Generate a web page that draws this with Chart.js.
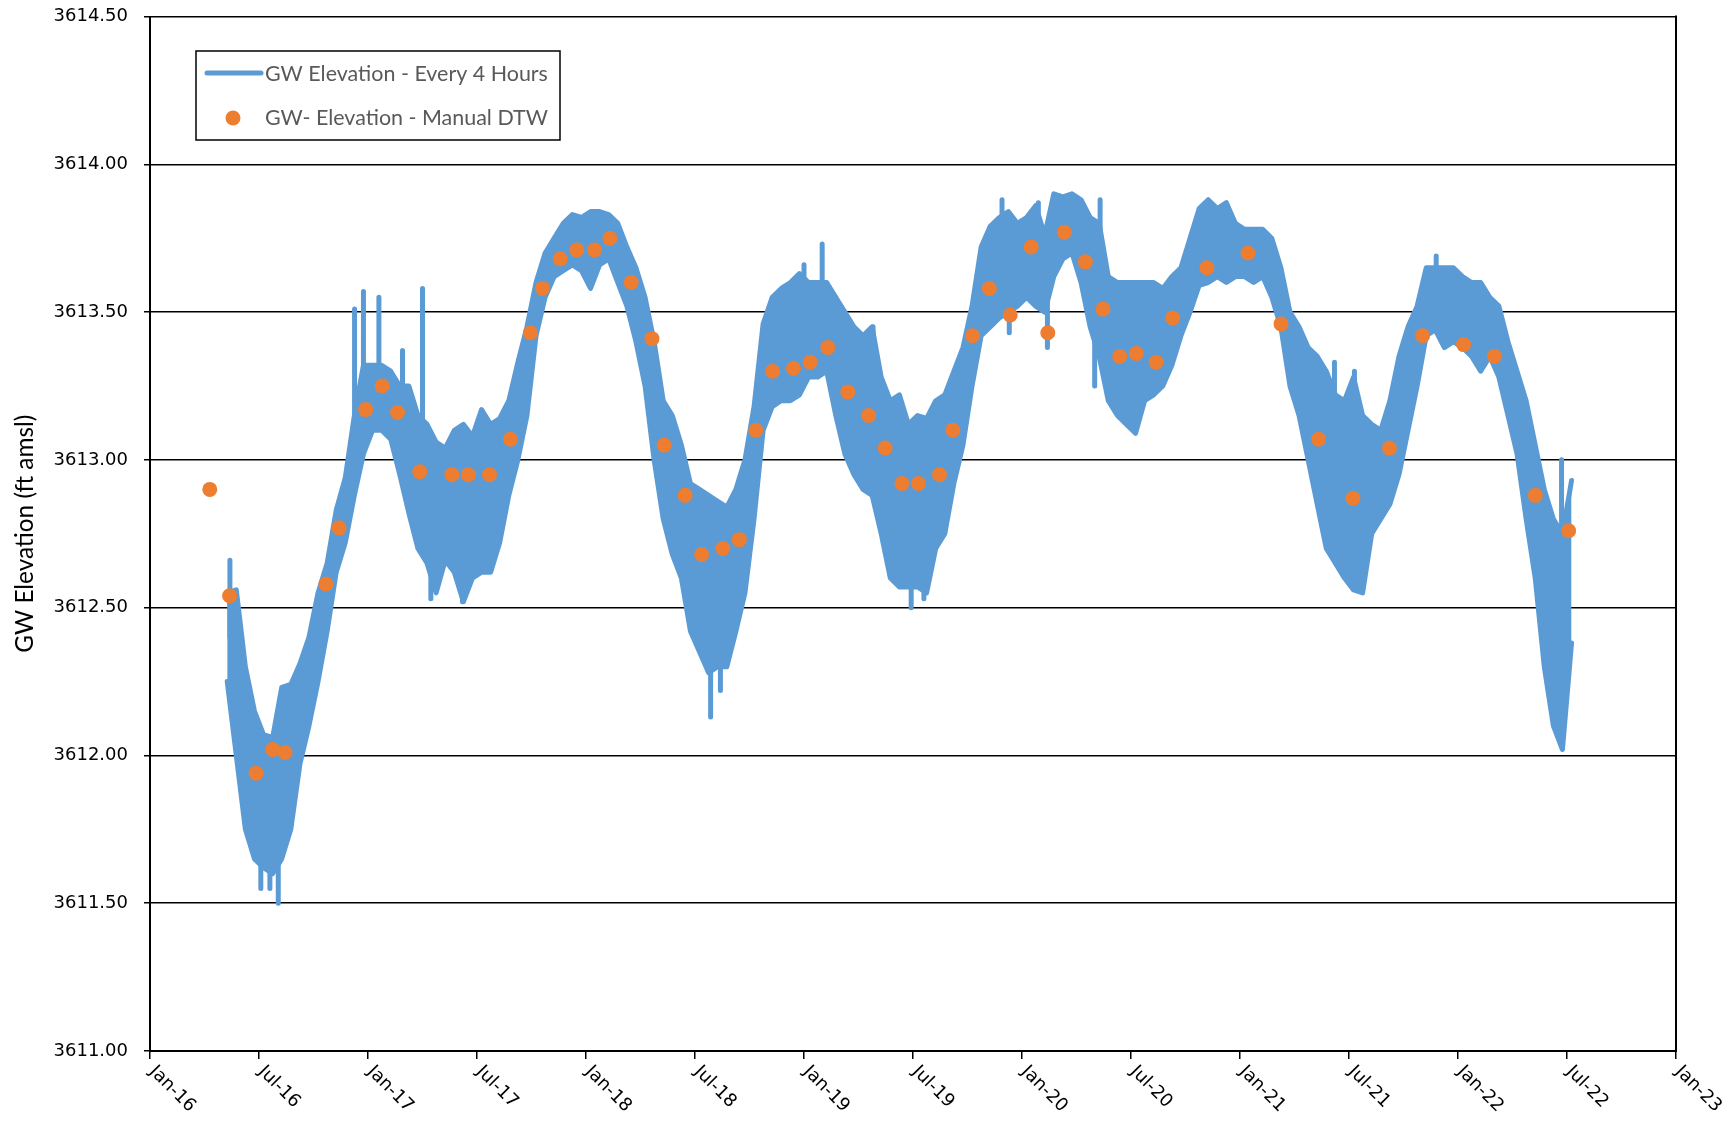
<!DOCTYPE html>
<html>
<head>
<meta charset="utf-8">
<script src="https://cdn.jsdelivr.net/npm/chart.js@4.4.1/dist/chart.umd.min.js"></script>
<style>
  html, body { margin: 0; padding: 0; background: #fff; }
  #wrap { width: 1733px; height: 1130px; }
</style>
</head>
<body>
<div id="wrap"><canvas id="gwChart" width="1733" height="1130"></canvas></div>
<script>
// x values are months since Jan 2016
const xTickLabels = ['Jan-16', 'Jul-16', 'Jan-17', 'Jul-17', 'Jan-18', 'Jul-18', 'Jan-19', 'Jul-19',
    'Jan-20', 'Jul-20', 'Jan-21', 'Jul-21', 'Jan-22', 'Jul-22', 'Jan-23'];

const gwStartMonth = 4.25;
const gwStep = 0.5;
const gwHigh = [
    3612.55, 3612.56, 3612.30, 3612.15, 3612.07, 3612.06, 3612.23, 3612.24, 3612.31, 3612.40,
    3612.55, 3612.65, 3612.83, 3612.94, 3613.15, 3613.32, 3613.32, 3613.32, 3613.30, 3613.25,
    3613.25, 3613.15, 3613.12, 3613.06, 3613.04, 3613.10, 3613.12, 3613.08, 3613.17, 3613.12,
    3613.14, 3613.20, 3613.33, 3613.45, 3613.60, 3613.70, 3613.75, 3613.80, 3613.83, 3613.82,
    3613.84, 3613.84, 3613.83, 3613.80, 3613.72, 3613.65, 3613.55, 3613.40, 3613.20, 3613.15,
    3613.05, 3612.92, 3612.90, 3612.88, 3612.86, 3612.84, 3612.90, 3613.00, 3613.18, 3613.46,
    3613.55, 3613.58, 3613.60, 3613.63, 3613.60, 3613.60, 3613.60, 3613.55, 3613.50, 3613.45,
    3613.42, 3613.45, 3613.28, 3613.20, 3613.22, 3613.12, 3613.15, 3613.14, 3613.20, 3613.22,
    3613.30, 3613.38, 3613.52, 3613.72, 3613.79, 3613.82, 3613.84, 3613.80, 3613.82, 3613.86,
    3613.76, 3613.90, 3613.89, 3613.90, 3613.88, 3613.82, 3613.80, 3613.62, 3613.60, 3613.60,
    3613.60, 3613.60, 3613.60, 3613.58, 3613.62, 3613.65, 3613.75, 3613.85, 3613.88, 3613.85,
    3613.87, 3613.80, 3613.78, 3613.78, 3613.78, 3613.75, 3613.65, 3613.50, 3613.45, 3613.38,
    3613.35, 3613.30, 3613.22, 3613.20, 3613.28, 3613.15, 3613.12, 3613.10, 3613.20, 3613.35,
    3613.45, 3613.52, 3613.65, 3613.65, 3613.65, 3613.65, 3613.62, 3613.60, 3613.60, 3613.55,
    3613.52, 3613.40, 3613.30, 3613.20, 3613.05, 3612.90, 3612.80, 3612.75, 3612.93
];
const gwLow = [
    3612.25, 3612.00, 3611.75, 3611.65, 3611.62, 3611.60, 3611.65, 3611.75, 3611.97, 3612.10,
    3612.25, 3612.42, 3612.62, 3612.72, 3612.88, 3613.02, 3613.10, 3613.10, 3613.07, 3612.95,
    3612.82, 3612.70, 3612.65, 3612.55, 3612.66, 3612.62, 3612.52, 3612.60, 3612.62, 3612.62,
    3612.72, 3612.88, 3613.00, 3613.15, 3613.42, 3613.55, 3613.62, 3613.64, 3613.66, 3613.64,
    3613.58, 3613.66, 3613.68, 3613.60, 3613.52, 3613.40, 3613.25, 3613.00, 3612.80, 3612.68,
    3612.60, 3612.42, 3612.35, 3612.28, 3612.30, 3612.30, 3612.42, 3612.55, 3612.80, 3613.10,
    3613.18, 3613.20, 3613.20, 3613.22, 3613.28, 3613.28, 3613.30, 3613.15, 3613.02, 3612.95,
    3612.90, 3612.88, 3612.75, 3612.60, 3612.57, 3612.57, 3612.57, 3612.55, 3612.70, 3612.75,
    3612.92, 3613.05, 3613.25, 3613.42, 3613.45, 3613.48, 3613.50, 3613.52, 3613.55, 3613.52,
    3613.50, 3613.62, 3613.68, 3613.70, 3613.60, 3613.45, 3613.35, 3613.20, 3613.15, 3613.12,
    3613.09, 3613.20, 3613.22, 3613.25, 3613.32, 3613.42, 3613.50, 3613.59, 3613.60, 3613.62,
    3613.60, 3613.62, 3613.62, 3613.60, 3613.62, 3613.55, 3613.45, 3613.25, 3613.15, 3613.00,
    3612.85, 3612.70, 3612.65, 3612.60, 3612.56, 3612.55, 3612.75, 3612.80, 3612.85, 3612.95,
    3613.10, 3613.25, 3613.42, 3613.44, 3613.38, 3613.40, 3613.38, 3613.35, 3613.30, 3613.35,
    3613.28, 3613.15, 3613.02, 3612.80, 3612.60, 3612.30, 3612.10, 3612.02, 3612.38
];

// narrow single-reading spikes sticking out of the band
const spikeMonths = [4.4, 6.1, 6.6, 7.06, 11.26, 11.75, 12.6, 13.9, 15.0, 15.46, 17.2, 30.86, 31.4, 36.0,
    37.0, 39.8, 41.9, 42.6, 46.9, 47.3, 48.9, 49.4, 52.0, 52.3, 65.2, 66.3, 70.8, 77.7];
const spikeValues = [3612.66, 3611.55, 3611.55, 3611.50, 3613.51, 3613.57, 3613.55, 3613.37, 3613.58, 3612.53,
    3612.52, 3612.13, 3612.22, 3613.66, 3613.73, 3613.45, 3612.50, 3612.53, 3613.88, 3613.43, 3613.87,
    3613.38, 3613.25, 3613.88, 3613.33, 3613.30, 3613.69, 3613.00];

// manual depth-to-water readings
const manualMonths = [
    3.29, 4.38, 5.84, 6.76, 7.43, 9.68, 10.41, 11.87, 12.78, 13.63,
    14.85, 16.62, 17.53, 18.69, 19.84, 20.94, 21.61, 22.58, 23.49, 24.47,
    25.32, 26.48, 27.63, 28.30, 29.46, 30.37, 31.53, 32.44, 33.35, 34.27,
    35.42, 36.34, 37.31, 38.41, 39.56, 40.47, 41.39, 42.30, 43.46, 44.19,
    45.28, 46.20, 47.35, 48.51, 49.42, 50.33, 51.49, 52.46, 53.38, 54.29,
    55.39, 56.30, 58.18, 60.44, 62.26, 64.33, 66.22, 68.23, 70.05, 72.31,
    74.01, 76.26, 78.09
];
const manualValues = [
    3612.90, 3612.54, 3611.94, 3612.02, 3612.01, 3612.58, 3612.77, 3613.17, 3613.25, 3613.16,
    3612.96, 3612.95, 3612.95, 3612.95, 3613.07, 3613.43, 3613.58, 3613.68, 3613.71, 3613.71,
    3613.75, 3613.60, 3613.41, 3613.05, 3612.88, 3612.68, 3612.70, 3612.73, 3613.10, 3613.30,
    3613.31, 3613.33, 3613.38, 3613.23, 3613.15, 3613.04, 3612.92, 3612.92, 3612.95, 3613.10,
    3613.42, 3613.58, 3613.49, 3613.72, 3613.43, 3613.77, 3613.67, 3613.51, 3613.35, 3613.36,
    3613.33, 3613.48, 3613.65, 3613.70, 3613.46, 3613.07, 3612.87, 3613.04, 3613.42, 3613.39,
    3613.35, 3612.88, 3612.76
];

const lineLabel = 'GW Elevation - Every 4 Hours';
const dotLabel = 'GW- Elevation - Manual DTW';
const blue = '#5B9BD5', orange = '#ED7D31';

const monthAt = i => gwStartMonth + i * gwStep;
const highPts = gwHigh.map((v, i) => ({ x: monthAt(i), y: v }));
const lowPts = gwLow.map((v, i) => ({ x: monthAt(i), y: v }));
// each spike is a short vertical stroke from the middle of the band, gaps between them
const spikePts = [];
spikeMonths.forEach((m, i) => {
    const k = Math.min(gwHigh.length - 1, Math.max(0, Math.round((m - gwStartMonth) / gwStep)));
    spikePts.push({ x: m, y: (gwHigh[k] + gwLow[k]) / 2 }, { x: m, y: spikeValues[i] }, { x: m, y: null });
});
const manualPts = manualMonths.map((m, i) => ({ x: m, y: manualValues[i] }));

function fitFont(ctx, text, family, width) {
    ctx.font = `100px ${family}`;
    return 100 * width / ctx.measureText(text).width;
}

const decorPlugin = {
    id: 'decor',
    beforeDraw(chart) {
        const ctx = chart.ctx;
        ctx.save();
        ctx.fillStyle = '#fff';
        ctx.fillRect(0, 0, chart.width, chart.height);
        ctx.restore();
    },
    afterDraw(chart) {
        const { ctx, chartArea: a, scales: { x } } = chart;
        ctx.save();
        // right frame
        ctx.strokeStyle = '#000';
        ctx.lineWidth = 2;
        ctx.beginPath();
        ctx.moveTo(a.right, a.top - 1);
        ctx.lineTo(a.right, a.bottom + 1);
        ctx.stroke();

        // slanted x labels
        ctx.font = '18px "DejaVu Sans"';
        ctx.fillStyle = '#000';
        ctx.textAlign = 'left';
        ctx.textBaseline = 'middle';
        x.ticks.forEach((t, i) => {
            const px = x.getPixelForValue(t.value);
            ctx.save();
            ctx.translate(px + 2, a.bottom + 18);
            ctx.rotate(Math.PI / 4);
            ctx.fillText(xTickLabels[i], 0, 0);
            ctx.restore();
        });

        // y title
        const yTitle = 'GW Elevation (ft amsl)';
        const ys = fitFont(ctx, yTitle, 'Lato', 238);
        ctx.save();
        ctx.translate(25, (a.top + a.bottom) / 2);
        ctx.rotate(-Math.PI / 2);
        ctx.font = `${ys}px Lato`;
        ctx.textAlign = 'center';
        ctx.fillText(yTitle, 0, 0);
        ctx.restore();

        // legend
        ctx.fillStyle = '#fff';
        ctx.fillRect(196, 51, 364, 89);
        ctx.strokeStyle = '#000';
        ctx.lineWidth = 1.5;
        ctx.strokeRect(196, 51, 364, 89);
        ctx.strokeStyle = blue;
        ctx.lineWidth = 5;
        ctx.lineCap = 'round';
        ctx.beginPath();
        ctx.moveTo(207, 73);
        ctx.lineTo(261, 73);
        ctx.stroke();
        ctx.fillStyle = orange;
        ctx.beginPath();
        ctx.arc(233, 118, 7.5, 0, Math.PI * 2);
        ctx.fill();
        const ls = fitFont(ctx, lineLabel, 'Lato', 283);
        ctx.font = `${ls}px Lato`;
        ctx.fillStyle = '#595959';
        ctx.textAlign = 'left';
        ctx.fillText(lineLabel, 265, 74);
        ctx.fillText(dotLabel, 265, 118);
        ctx.restore();
    }
};

const bandStyle = { borderColor: blue, backgroundColor: blue, borderWidth: 5, pointRadius: 0, tension: 0,
    borderCapStyle: 'round', borderJoinStyle: 'round' };

new Chart(document.getElementById('gwChart'), {
    type: 'line',
    data: {
        datasets: [
            { label: dotLabel, data: manualPts, backgroundColor: orange, borderColor: orange, pointRadius: 7.5, pointBorderWidth: 0, showLine: false, order: 1 },
            { label: lineLabel, data: spikePts, ...bandStyle, spanGaps: false, fill: false, order: 2 },
            { label: lineLabel, data: highPts, ...bandStyle, fill: '+1', order: 3 },
            { label: lineLabel, data: lowPts, ...bandStyle, fill: false, order: 4 }
        ]
    },
    options: {
        responsive: false, animation: false, devicePixelRatio: 1,
        layout: { padding: { top: 16.5, right: 57, left: 0, bottom: 0 } },
        scales: {
            x: {
                type: 'linear', min: 0, max: 84,
                ticks: { stepSize: 6, display: false, autoSkip: false, callback: (v, i) => xTickLabels[i] },
                grid: { drawOnChartArea: false, drawTicks: true, tickLength: 8, color: '#000', lineWidth: 1.5 },
                border: { color: '#000', width: 2 },
                afterFit: s => { s.height = 79; }
            },
            y: {
                min: 3611, max: 3614.5,
                ticks: { stepSize: 0.5, padding: 16, color: '#000', font: { family: 'DejaVu Sans', size: 18 }, callback: v => v.toFixed(2) },
                grid: { color: '#000', lineWidth: 1.5, tickLength: 6 },
                border: { color: '#000', width: 2 },
                afterFit: s => { s.width = 150; s.paddingTop = 0; s.paddingBottom = 0; }
            }
        },
        plugins: { legend: { display: false }, tooltip: { enabled: false } }
    },
    plugins: [decorPlugin]
});
</script>
</body>
</html>
